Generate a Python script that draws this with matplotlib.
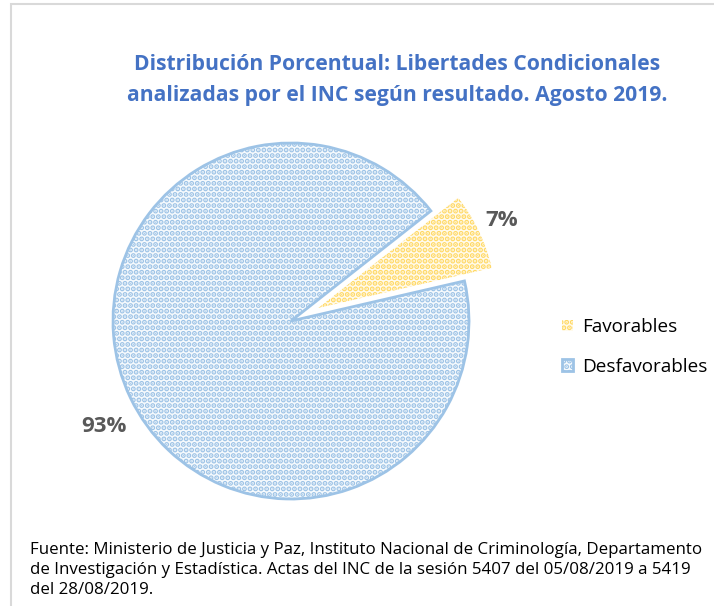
import matplotlib
matplotlib.use("Agg")
import matplotlib.pyplot as plt
from matplotlib.patches import Rectangle

# data
categorias = ["Favorables", "Desfavorables"]
porcentajes = [7, 93]
etiquetas = ["7%", "93%"]

titulo = ("Distribución Porcentual: Libertades Condicionales\n"
          "analizadas por el INC según resultado. Agosto 2019.")
fuente = ("Fuente: Ministerio de Justicia y Paz, Instituto Nacional de Criminología, Departamento\n"
          "de Investigación y Estadística. Actas del INC de la sesión 5407 del 05/08/2019 a 5419\n"
          "del 28/08/2019.")

plt.rcParams['font.family'] = ['Open Sans', 'DejaVu Sans']
plt.rcParams['hatch.linewidth'] = 2.6

W, H = 714, 606
fig = plt.figure(figsize=(W / 100, H / 100), dpi=100)

# light grey frame of the chart area
fig.patches.append(Rectangle((11 / W, -0.1), 1.2, 1 - 4 / H + 0.1, transform=fig.transFigure,
                             fill=False, edgecolor="#D9D9D9", linewidth=1.5))

# pie axes, centre at (291, 321) px, radius 178 px
cx, cy, r, half = 291, 321, 178, 200
ax = fig.add_axes([(cx - half) / W, (H - cy - half) / H, 2 * half / W, 2 * half / H])
lim = half / r

wedges, _ = ax.pie(porcentajes, startangle=13, counterclock=True, explode=[0.17, 0],
                   radius=1, frame=False)
ax.set_xlim(-lim, lim)
ax.set_ylim(-lim, lim)
ax.axis("off")

wedges[0].set(facecolor="#FFFBEE", edgecolor="#FFD966", hatch="...", linewidth=0)
wedges[1].set(facecolor="#F6FAFD", edgecolor="#9DC3E6", hatch="...", linewidth=2)

# percentage labels
ax.text(1.185, 0.562, etiquetas[0], ha="center", va="center", fontsize=16,
        fontweight="bold", color="#595959")
ax.text(-1.05, -0.59, etiquetas[1], ha="center", va="center", fontsize=16,
        fontweight="bold", color="#595959")

fig.text(397 / W, 1 - 80 / H, titulo, ha="center", va="center", fontsize=15.2,
         fontweight="bold", color="#4472C4", linespacing=1.62)

leg = fig.legend(wedges, categorias, loc="center left", bbox_to_anchor=(553 / W, 1 - 347 / H),
                 frameon=False, fontsize=13.6, handlelength=0.55, handleheight=0.55,
                 handletextpad=0.5, labelspacing=1.15, borderpad=0)

fig.text(30 / W, 1 - 570 / H, fuente, ha="left", va="center", fontsize=12.2,
         color="#000000", linespacing=1.33)

fig.savefig("out.png", dpi=100)
